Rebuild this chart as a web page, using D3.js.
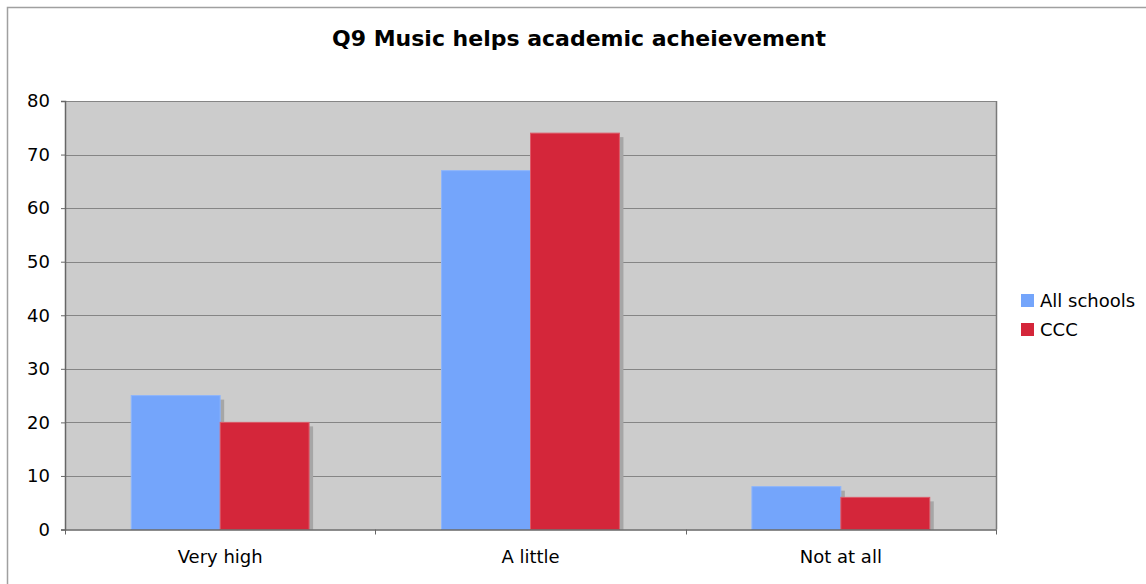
<!DOCTYPE html>
<html><head><meta charset="utf-8">
<script src="https://cdn.jsdelivr.net/npm/d3@7"></script>
<style>body{margin:0;background:#fff;}svg{display:block;}</style>
</head><body>
<svg id="c" width="1146" height="584"></svg>
<script>
const categories = ["Very high", "A little", "Not at all"];
const seriesNames = ["All schools", "CCC"];
const allSchools = [25, 67, 8];
const ccc = [20, 74, 6];
const yTicks = [0, 10, 20, 30, 40, 50, 60, 70, 80];
const title = "Q9 Music helps academic acheievement";
const colors = ["#74a5fb", "#d4263a"];

const svg = d3.select("#c");
const font = "'DejaVu Sans', Verdana, sans-serif";
const L = 65, R = 996, T = 101, B = 529.5;

// outer frame
svg.append("path").attr("d", "M7.5,584 V7.5 H1146").attr("fill", "none").attr("stroke", "#a0a0a0").attr("stroke-width", 1.5);

svg.append("text").attr("x", 579).attr("y", 46).attr("text-anchor", "middle")
  .attr("font-family", font).attr("font-weight", "bold").attr("font-size", 22).text(title);

const y = d3.scaleLinear().domain([0, 80]).range([B, T]);
const x0 = d3.scaleBand().domain(categories).range([L, R]).paddingInner(0).paddingOuter(0);
const x1 = d3.scaleBand().domain(seriesNames).range([0, x0.bandwidth()]).paddingOuter(0.745).paddingInner(0);

svg.append("rect").attr("x", L).attr("y", T).attr("width", R - L).attr("height", B - T).attr("fill", "#cccccc");

// gridlines
svg.append("g").selectAll("line").data(yTicks.filter(d => d > 0)).join("line")
  .attr("x1", L).attr("x2", R).attr("y1", d => Math.round(y(d)) + 0.5).attr("y2", d => Math.round(y(d)) + 0.5)
  .attr("stroke", "#858585").attr("stroke-width", 1);

const data = categories.map((c, i) => ({c, vals: [allSchools[i], ccc[i]]}));
const groups = svg.append("g").selectAll("g").data(data).join("g")
  .attr("transform", d => `translate(${x0(d.c)},0)`);
// shadows
groups.selectAll("rect.sh").data(d => d.vals.map((v, j) => ({s: seriesNames[j], v, j}))).join("rect")
  .attr("class", "sh")
  .attr("x", d => x1(d.s) + 4).attr("y", d => y(d.v) + 4)
  .attr("width", x1.bandwidth()).attr("height", d => B - y(d.v) - 4)
  .attr("fill", "#a6a6a6");
groups.selectAll("rect.bar").data(d => d.vals.map((v, j) => ({s: seriesNames[j], v, j}))).join("rect")
  .attr("class", "bar")
  .attr("x", d => x1(d.s)).attr("y", d => y(d.v))
  .attr("width", x1.bandwidth()).attr("height", d => B - y(d.v))
  .attr("fill", d => colors[d.j])
  .attr("stroke", d => d.j === 0 ? "#8db5fc" : "#dd5a68").attr("stroke-width", 1);

// right border of plot
svg.append("line").attr("x1", R + 0.5).attr("x2", R + 0.5).attr("y1", T).attr("y2", B).attr("stroke", "#7a7a7a").attr("stroke-width", 1.5);
svg.append("line").attr("x1", L).attr("x2", R).attr("y1", T + 0.5).attr("y2", T + 0.5).attr("stroke", "#858585");

// axes
const yAxis = d3.axisLeft(y).tickValues(yTicks).tickSize(4).tickPadding(11);
const gy = svg.append("g").attr("transform", `translate(${L},0)`).call(yAxis);
gy.select(".domain").attr("stroke", "#666").attr("stroke-width", 1.5);
gy.selectAll(".tick line").attr("stroke", "#666");
gy.selectAll("text").attr("font-family", font).attr("font-size", 18).attr("fill", "#000");

const xAxis = d3.axisBottom(x0).tickSize(0).tickPadding(21);
const gx = svg.append("g").attr("transform", `translate(0,${B})`).call(xAxis);
gx.select(".domain").attr("stroke", "#666").attr("stroke-width", 1.5);
gx.selectAll("text").attr("font-family", font).attr("font-size", 18).attr("fill", "#000");
// category boundary ticks
const bounds = categories.map(c => x0(c)).concat([R]);
svg.append("g").selectAll("line").data(bounds).join("line")
  .attr("x1", d => Math.round(d) + 0.5).attr("x2", d => Math.round(d) + 0.5)
  .attr("y1", B).attr("y2", B + 5).attr("stroke", "#666");

// legend
const lg = svg.append("g").selectAll("g").data(seriesNames).join("g")
  .attr("transform", (d, i) => `translate(1021,${294 + i * 29})`);
lg.append("rect").attr("width", 13).attr("height", 13).attr("fill", (d, i) => colors[i]);
lg.append("text").attr("x", 19).attr("y", 13).attr("font-family", font).attr("font-size", 18).text(d => d);
</script>
</body></html>
